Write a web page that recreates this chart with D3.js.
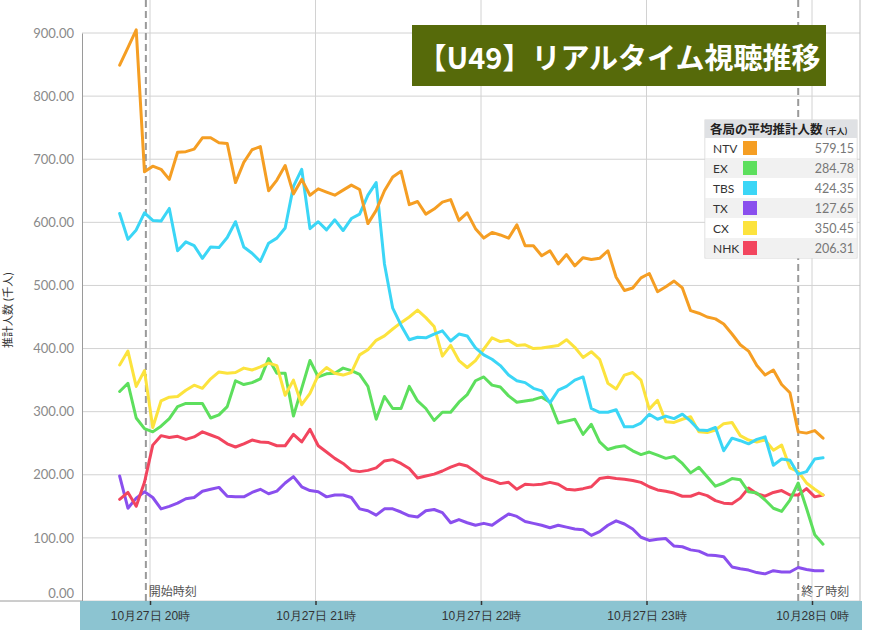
<!DOCTYPE html>
<html>
<head>
<meta charset="utf-8">
<script src="https://cdn.jsdelivr.net/npm/d3@7"></script>
<style>
  body { margin: 0; background: #fff; }
  svg { display: block; font-family: "Noto Sans CJK JP", "Noto Sans", sans-serif; }
</style>
</head>
<body>
<script>
// sample times (every 3 min), 10/27 19:49 -> 10/28 0:04
const times = [
  "19:49","19:52","19:55","19:58","20:01","20:04","20:07","20:10","20:13","20:16",
  "20:19","20:22","20:25","20:28","20:31","20:34","20:37","20:40","20:43","20:46",
  "20:49","20:52","20:55","20:58","21:01","21:04","21:07","21:10","21:13","21:16",
  "21:19","21:22","21:25","21:28","21:31","21:34","21:37","21:40","21:43","21:46",
  "21:49","21:52","21:55","21:58","22:01","22:04","22:07","22:10","22:13","22:16",
  "22:19","22:22","22:25","22:28","22:31","22:34","22:37","22:40","22:43","22:46",
  "22:49","22:52","22:55","22:58","23:01","23:04","23:07","23:10","23:13","23:16",
  "23:19","23:22","23:25","23:28","23:31","23:34","23:37","23:40","23:43","23:46",
  "23:49","23:52","23:55","23:58","00:01","00:04"
];

const ntv = [
  849, 877, 905, 680, 689, 684, 668, 711, 712, 716,
  734, 734, 726, 725, 663, 695, 715, 720, 650, 667,
  690, 645, 668, 643, 653, 648, 643, 651, 659, 652,
  598, 619, 650, 672, 681, 628, 633, 613, 621, 632,
  636, 603, 615, 590, 575, 584, 580, 575, 596, 563,
  563, 547, 555, 534, 549, 531, 544, 541, 543, 555,
  513, 492, 496, 512, 519, 490, 498, 507, 496, 460,
  456, 450, 447, 439, 423, 406, 396, 373, 358, 366,
  343, 330, 268, 266, 270, 258
];
const ex = [
  332, 345, 290, 273, 268, 277, 289, 308, 313, 313,
  313, 290, 295, 308, 349, 343, 346, 352, 384, 361,
  361, 293, 337, 381, 355, 360, 361, 369, 365, 359,
  340, 288, 324, 305, 305, 340, 317, 305, 286, 299,
  299, 315, 327, 349, 355, 342, 339, 325, 315, 317,
  319, 323, 315, 282, 285, 288, 264, 280, 252, 240,
  244, 246, 238, 232, 236, 231, 226, 229, 218, 203,
  212, 197, 182, 187, 194, 192, 173, 171, 160, 147,
  142, 160, 187, 147, 105, 90
];
const tbs = [
  614, 573, 588, 615, 603, 602, 622, 555, 569, 563,
  543, 561, 560, 576, 601, 561, 551, 538, 567, 575,
  591, 657, 684, 590, 601, 588, 604, 587, 606, 613,
  643, 663, 534, 464, 437, 414, 418, 417, 423, 428,
  412, 423, 420, 401, 390, 383, 373, 358, 349, 346,
  337, 333, 314, 334, 340, 350, 355, 305, 299, 299,
  303, 276, 276, 282, 296, 288, 293, 289, 296, 285,
  271, 270, 275, 238, 258, 254, 249, 256, 260, 215,
  225, 223, 201, 205, 225, 227
];
const tx = [
  198, 147, 163, 173, 164, 146, 150, 155, 162, 164,
  174, 177, 180, 166, 165, 165, 172, 177, 170, 174,
  187, 197, 181, 175, 173, 165, 168, 168, 164, 146,
  143, 136, 146, 146, 141, 135, 133, 143, 145, 140,
  124, 129, 124, 120, 123, 120, 129, 138, 134, 126,
  123, 120, 116, 120, 117, 114, 113, 104, 110, 120,
  127, 122, 114, 101, 96, 98, 99, 87, 86, 81,
  79, 73, 72, 70, 54, 51, 49, 45, 43, 48,
  46, 46, 53, 50, 48, 48
];
const cx = [
  374, 396, 340, 365, 275, 317, 323, 324, 334, 342,
  337, 352, 363, 361, 362, 369, 366, 371, 377, 373,
  326, 350, 311, 329, 358, 370, 361, 358, 362, 390,
  398, 413, 420, 431, 441, 450, 461, 449, 435, 388,
  405, 381, 370, 381, 399, 417, 411, 413, 405, 406,
  400, 401, 403, 405, 414, 402, 386, 395, 383, 345,
  336, 358, 362, 350, 304, 318, 284, 283, 288, 292,
  268, 267, 271, 281, 283, 262, 255, 252, 255, 239,
  247, 211, 205, 187, 177, 168
];
const nhk = [
  161, 172, 150, 188, 247, 262, 259, 261, 256, 260,
  268, 263, 258, 249, 244, 249, 255, 252, 251, 246,
  246, 264, 252, 272, 246, 236, 226, 218, 207, 205,
  207, 211, 222, 224, 218, 210, 195, 198, 201, 206,
  212, 217, 214, 205, 195, 191, 186, 188, 177, 185,
  184, 185, 188, 185, 177, 176, 178, 181, 194, 196,
  194, 193, 191, 188, 181, 176, 174, 171, 166, 166,
  171, 167, 159, 155, 154, 163, 179, 170, 166, 172,
  175, 168, 168, 178, 165, 168
];

const stations = ["NTV", "EX", "TBS", "TX", "CX", "NHK"];
const colors = ["#f59e23", "#5ddf5d", "#3bd6f6", "#8a4fee", "#fce33d", "#f2455e"];
const averages = ["579.15", "284.78", "424.35", "127.65", "350.45", "206.31"];
const seriesValues = [ntv, ex, tbs, tx, cx, nhk];
const drawOrder = ["TX", "NHK", "EX", "CX", "TBS", "NTV"];

const hourTicks = ["20:00", "21:00", "22:00", "23:00", "00:00"];
const markers = [["19:58:30", "開始時刻"], ["23:55", "終了時刻"]];
const yTicks = [0, 100, 200, 300, 400, 500, 600, 700, 800, 900];
const title = "【U49】リアルタイム視聴推移";
const legendTitle = "各局の平均推計人数";
const legendUnit = "(千人)";
const yTitle = "推計人数 (千人)";

// --- helpers
const parseHM = d3.timeParse("%Y-%m-%d %H:%M");
const parseHMS = d3.timeParse("%Y-%m-%d %H:%M:%S");
function toDate(s) {
  const day = +s.slice(0, 2) < 12 ? "2019-10-28 " : "2019-10-27 ";
  return s.length > 5 ? parseHMS(day + s) : parseHM(day + s);
}

window.onload = () => {
  const W = 870, H = 630;
  const left = 82, right = 860, bottom = 601;

  const svg = d3.select("body").append("svg")
    .attr("width", W)
    .attr("height", H);

  const x = d3.scaleTime()
    .domain([toDate("20:00"), toDate("00:00")])
    .range([150, 812]);
  const y = d3.scaleLinear()
    .domain([0, 900])
    .range([bottom, 33]);

  // grid
  const grid = svg.append("g");
  grid.selectAll("line.h").data(yTicks).join("line")
    .attr("class", "h")
    .attr("x1", left).attr("x2", right)
    .attr("y1", d => y(d)).attr("y2", d => y(d))
    .attr("stroke", "#d2d2d2");
  grid.selectAll("line.v").data(hourTicks).join("line")
    .attr("class", "v")
    .attr("x1", d => x(toDate(d))).attr("x2", d => x(toDate(d)))
    .attr("y1", 0).attr("y2", bottom)
    .attr("stroke", "#d2d2d2");
  grid.append("line")
    .attr("x1", right).attr("x2", right)
    .attr("y1", 0).attr("y2", bottom)
    .attr("stroke", "#bdbdbd");

  // y axis
  const yAxis = svg.append("g")
    .attr("transform", "translate(" + left + ",0)")
    .call(d3.axisLeft(y).tickValues(yTicks).tickSize(0).tickPadding(8).tickFormat(d3.format(".2f")));
  yAxis.select(".domain").attr("stroke", "#9a9a9a");
  yAxis.selectAll("text")
    .attr("fill", "#8a8a8a")
    .style("font-family", "Lato, 'Noto Sans', sans-serif")
    .style("font-size", "13px")
    .attr("dy", d => d === 0 ? "-0.25em" : "0.32em");

  svg.append("text")
    .attr("transform", "translate(12,310) rotate(-90)")
    .attr("text-anchor", "middle")
    .attr("fill", "#333")
    .style("font-size", "11px")
    .text(yTitle);

  // x axis band
  svg.append("line")
    .attr("x1", 0).attr("x2", left)
    .attr("y1", bottom).attr("y2", bottom)
    .attr("stroke", "#9a9a9a");
  svg.append("rect")
    .attr("x", 80).attr("y", bottom)
    .attr("width", 782).attr("height", H - bottom)
    .attr("fill", "#8cc4d1");

  const xAxis = svg.append("g")
    .attr("transform", "translate(0," + bottom + ")")
    .call(d3.axisBottom(x)
      .tickValues(hourTicks.map(toDate))
      .tickSize(4)
      .tickPadding(6)
      .tickFormat(d3.timeFormat("%-m月%-d日 %-H時")));
  xAxis.select(".domain").remove();
  xAxis.selectAll("line").attr("stroke", "#333").attr("stroke-width", 1.5);
  xAxis.selectAll("text")
    .attr("fill", "#333")
    .style("font-size", "12px");

  // start / end markers
  const mk = svg.append("g");
  markers.forEach(m => {
    const mx = x(toDate(m[0]));
    mk.append("line")
      .attr("x1", mx).attr("x2", mx)
      .attr("y1", 0).attr("y2", bottom)
      .attr("stroke", "#9a9a9a")
      .attr("stroke-width", 2)
      .attr("stroke-dasharray", "7,4");
    mk.append("text")
      .attr("x", mx + 3).attr("y", 596)
      .attr("fill", "#555")
      .style("font-size", "12px")
      .text(m[1]);
  });

  // lines
  const dates = times.map(toDate);
  const line = d3.line()
    .x((d, i) => x(dates[i]))
    .y(d => y(d));
  const linesGroup = svg.append("g");
  drawOrder.forEach(name => {
    const i = stations.indexOf(name);
    linesGroup.append("path")
      .datum(seriesValues[i])
      .attr("d", line)
      .attr("fill", "none")
      .attr("stroke", colors[i])
      .attr("stroke-width", 3)
      .attr("stroke-linejoin", "round")
      .attr("stroke-linecap", "round");
  });

  // title box
  svg.append("rect")
    .attr("x", 412).attr("y", 25)
    .attr("width", 414).attr("height", 61)
    .attr("fill", "#566a0a");
  svg.append("text")
    .attr("x", 619).attr("y", 56)
    .attr("text-anchor", "middle")
    .attr("dominant-baseline", "central")
    .attr("fill", "#fff")
    .style("font-size", "29px")
    .style("font-weight", "700")
    .text(title);

  // legend table
  const lg = svg.append("g");
  const lx = 705, lw = 152, ly = 120, hh = 18, rh = 20;
  lg.append("rect")
    .attr("x", lx).attr("y", ly)
    .attr("width", lw).attr("height", hh + rh * stations.length)
    .attr("fill", "#fff")
    .attr("stroke", "#d6d6d6");
  lg.append("rect")
    .attr("x", lx).attr("y", ly)
    .attr("width", lw).attr("height", hh)
    .attr("fill", "#dfe1e4");
  const ht = lg.append("text")
    .attr("x", lx + 5).attr("y", ly + 13.5)
    .attr("fill", "#222")
    .style("font-weight", "700")
    .style("font-size", "12.5px");
  ht.append("tspan").text(legendTitle);
  ht.append("tspan").attr("dx", 3).style("font-size", "8px").text(legendUnit);

  const rows = lg.selectAll("g.row").data(stations).join("g")
    .attr("class", "row")
    .attr("transform", (d, i) => "translate(" + lx + "," + (ly + hh + i * rh) + ")");
  rows.append("rect")
    .attr("x", 0.5).attr("width", lw - 1).attr("height", rh)
    .attr("fill", (d, i) => i % 2 ? "#f1f1f1" : "#fff");
  rows.append("text")
    .attr("x", 8).attr("y", 14.5)
    .attr("fill", "#333")
    .style("font-family", "Lato, 'Noto Sans', sans-serif")
    .style("font-size", "12px")
    .text(d => d);
  rows.append("rect")
    .attr("x", 38).attr("y", 3)
    .attr("width", 14).attr("height", 14)
    .attr("fill", (d, i) => colors[i]);
  rows.append("text")
    .attr("x", lw - 3).attr("y", 14.5)
    .attr("text-anchor", "end")
    .attr("fill", "#777")
    .style("font-family", "Lato, 'Noto Sans', sans-serif")
    .style("font-size", "12.5px")
    .text((d, i) => averages[i]);
};
</script>
</body>
</html>
